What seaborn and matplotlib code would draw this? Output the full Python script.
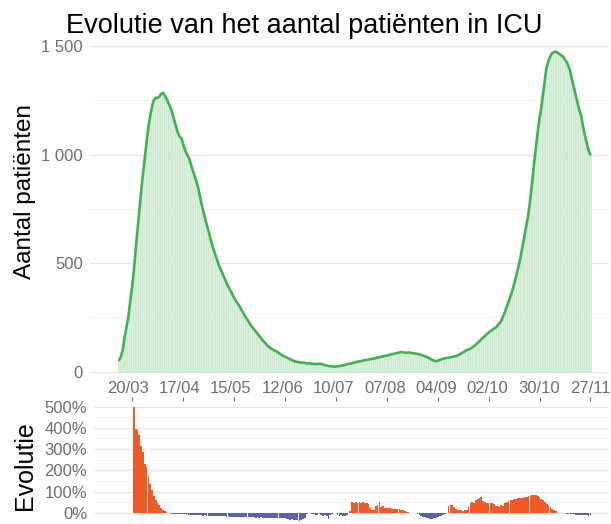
import matplotlib
matplotlib.use("Agg")
import matplotlib.pyplot as plt
import matplotlib.dates as mdates
from matplotlib.ticker import MultipleLocator
import numpy as np
import pandas as pd
import seaborn as sns

# ---------------- data ----------------
title = "Evolutie van het aantal patiënten in ICU"
ylabel_top = "Aantal patiënten"
ylabel_bottom = "Evolutie"

icu_start = "2020-03-15"
icu = [
    52, 70, 100, 160, 205, 250, 320, 385, 460, 560,
    650, 740, 830, 910, 985, 1060, 1130, 1180, 1225, 1252,
    1262, 1260, 1268, 1280, 1285, 1270, 1255, 1235, 1218, 1190,
    1160, 1130, 1100, 1082, 1075, 1045, 1020, 1000, 985, 960,
    930, 905, 880, 850, 810, 770, 735, 700, 670, 640,
    605, 575, 550, 525, 500, 478, 458, 440, 420, 400,
    385, 368, 350, 335, 322, 310, 296, 280, 265, 250,
    238, 225, 212, 200, 190, 180, 168, 158, 147, 138,
    128, 118, 112, 105, 100, 96, 92, 86, 80, 75,
    70, 66, 62, 58, 54, 50, 46, 45, 43, 42,
    40, 41, 38, 37, 38, 36, 35, 35, 34, 36,
    35, 33, 30, 28, 26, 25, 24, 23, 22, 24,
    25, 27, 28, 30, 33, 35, 36, 38, 40, 43,
    45, 47, 48, 50, 52, 53, 55, 57, 58, 60,
    62, 65, 66, 68, 70, 72, 73, 75, 78, 80,
    82, 84, 86, 88, 90, 88, 86, 87, 88, 86,
    85, 84, 82, 80, 78, 76, 73, 70, 66, 62,
    57, 52, 49, 48, 50, 54, 57, 60, 62, 63,
    64, 66, 68, 70, 72, 76, 80, 86, 90, 96,
    100, 103, 107, 114, 120, 128, 136, 143, 152, 160,
    168, 176, 183, 189, 195, 200, 208, 218, 228, 245,
    265, 288, 312, 335, 360, 390, 420, 455, 490, 530,
    575, 620, 665, 712, 775, 850, 930, 1010, 1082, 1150,
    1200, 1266, 1330, 1395, 1428, 1450, 1465, 1472, 1474, 1470,
    1464, 1458, 1452, 1440, 1428, 1410, 1385, 1345, 1310, 1275,
    1240, 1205, 1180, 1130, 1090, 1055, 1020, 1000,
]

evo_start = "2020-03-21"
evo = [
    500, 395, 388, 365, 315, 288, 230, 214, 172, 136,
    107, 80, 62, 48, 36, 25, 15, 9, 5, 2,
    -2, -3, -3, -4, -5, -5, -6, -6, -7, -8,
    -8, -9, -10, -10, -11, -11, -12, -12, -13, -12,
    -13, -14, -13, -14, -15, -14, -15, -16, -15, -16,
    -16, -17, -16, -17, -18, -17, -18, -18, -19, -18,
    -19, -20, -19, -20, -21, -20, -21, -22, -21, -22,
    -21, -22, -23, -22, -23, -22, -24, -23, -24, -25,
    -24, -25, -26, -25, -27, -29, -31, -30, -33, -32,
    -35, -38, -34, -30, -26, -4, -1, 0, -3, -4,
    -8, -11, -7, -10, -14, -12, -16, -30, -10, -3,
    -1, 0, -12, -15, -11, -13, -16, -8, 2, 8,
    52, 48, 50, 47, 52, 49, 51, 48, 45, 40,
    22, 15, 14, 33, 36, 52, 30, 32, 24, 22,
    23, 25, 19, 18, 20, 17, 19, 16, 12, 8,
    6, 3, 1, 0, -1, 0, -4, -10, -15, -19,
    -18, -22, -24, -27, -30, -25, -22, -18, -14, -16,
    -10, -4, 1, 32, 35, 37, 30, 20, 14, 15,
    12, 10, 14, 13, 30, 45, 50, 48, 60, 66,
    70, 73, 55, 52, 48, 45, 47, 46, 44, 34,
    32, 30, 35, 33, 47, 50, 55, 60, 62, 64,
    66, 68, 70, 72, 71, 74, 76, 78, 80, 82,
    85, 86, 80, 74, 67, 60, 52, 44, 36, 28,
    20, 13, 7, 2, 1, 0, -1, -2, -3, -4,
    -5, -6, -7, -8, -9, -10, -10, -11, -12, -12,
    -13, -12,
]

x_tick_dates = ["2020-03-20", "2020-04-17", "2020-05-15", "2020-06-12", "2020-07-10",
                "2020-08-07", "2020-09-04", "2020-10-02", "2020-10-30", "2020-11-27"]
x_tick_labels = ["20/03", "17/04", "15/05", "12/06", "10/07",
                 "07/08", "04/09", "02/10", "30/10", "27/11"]
y_ticks_top = [0, 500, 1000, 1500]
y_tick_labels_top = ["0", "500", "1 000", "1 500"]
y_ticks_bottom = [0, 100, 200, 300, 400, 500]
y_tick_labels_bottom = ["0%", "100%", "200%", "300%", "400%", "500%"]

# ---------------- frames ----------------
df_icu = pd.DataFrame({"date": pd.date_range(icu_start, periods=len(icu), freq="D"),
                       "icu": icu})
df_evo = pd.DataFrame({"date": pd.date_range(evo_start, periods=len(evo), freq="D"),
                       "evo": evo})
df_evo["sign"] = np.where(df_evo["evo"] >= 0, "pos", "neg")

# ---------------- style ----------------
sns.set_theme(style="white")
plt.rcParams["font.family"] = ["Liberation Sans", "DejaVu Sans"]

GREEN = "#3fb34f"
BAR_GREEN = "#dcf1de"
BAR_EDGE = "#c4e6c8"
ORANGE = "#f15a24"
BLUE = "#5f5fb3"
GRID = "#e6e6e6"
GRID_MINOR = "#f0f0f0"
TICK = "#6e6e6e"

W, H = 611, 524
fig = plt.figure(figsize=(W / 100, H / 100), dpi=100)

def frac(l, t, r, b):
    return [l / W, 1 - b / H, (r - l) / W, (b - t) / H]

ax1 = fig.add_axes(frac(90, 38, 609, 375))
ax2 = fig.add_axes(frac(94, 401, 609, 524))

ref = pd.Timestamp("2020-03-20")
x_lo = mdates.date2num(ref) - 20.9
x_hi = mdates.date2num(ref) + 262.2

# ---- top panel ----
ax1.bar(df_icu["date"], df_icu["icu"], width=0.9, color=BAR_GREEN,
        edgecolor=BAR_EDGE, linewidth=0.4, zorder=2)
sns.lineplot(data=df_icu, x="date", y="icu", ax=ax1, color=GREEN,
             linewidth=1.9, zorder=3)
ax1.set_xlim(x_lo, x_hi)
ax1.set_ylim(-16, 1537)
ax1.set_yticks(y_ticks_top)
ax1.set_yticklabels(y_tick_labels_top)
ax1.yaxis.set_minor_locator(MultipleLocator(250))
ax1.set_xticks(pd.to_datetime(x_tick_dates))
ax1.set_xticklabels(x_tick_labels)
ax1.set_xlabel("")
ax1.set_ylabel("")

# ---- bottom panel ----
pos = df_evo[df_evo["sign"] == "pos"]
neg = df_evo[df_evo["sign"] == "neg"]
ax2.bar(pos["date"], pos["evo"], width=0.95, color=ORANGE, linewidth=0, zorder=2)
ax2.bar(neg["date"], neg["evo"], width=0.95, color=BLUE, linewidth=0, zorder=2)
ax2.set_xlim(x_lo, x_hi)
ax2.set_ylim(-52, 526)
ax2.set_yticks(y_ticks_bottom)
ax2.set_yticklabels(y_tick_labels_bottom)
ax2.yaxis.set_minor_locator(MultipleLocator(50))
ax2.set_xticks(pd.to_datetime(x_tick_dates))
ax2.set_xticklabels([])
ax2.xaxis.tick_top()
ax2.set_xlabel("")
ax2.set_ylabel("")

for ax in (ax1, ax2):
    for s in ax.spines.values():
        s.set_visible(False)
    ax.set_axisbelow(True)
    ax.grid(False)
    ax.yaxis.grid(True, which="major", color=GRID, linewidth=0.9)
    ax.yaxis.grid(True, which="minor", color=GRID_MINOR, linewidth=0.6)
    ax.tick_params(axis="both", which="major", length=3, width=0.8, color=TICK,
                   labelcolor=TICK, labelsize=12, pad=2)
    ax.tick_params(axis="y", which="minor", length=0)

ax2.tick_params(axis="x", which="major", top=True, bottom=False, length=3, pad=1)
ax1.tick_params(axis="x", pad=1)

fig.text(0.498, 1 - 33 / H, title, ha="center", va="baseline", fontsize=19.5, color="black")
fig.text(25 / W, 1 - 191.5 / H, ylabel_top, rotation=90, ha="center", va="center",
         fontsize=17.5, color="black")
fig.text(25 / W, 1 - 466 / H, ylabel_bottom, rotation=90, ha="center", va="center",
         fontsize=18, color="black")

fig.savefig("out.png", dpi=100)
